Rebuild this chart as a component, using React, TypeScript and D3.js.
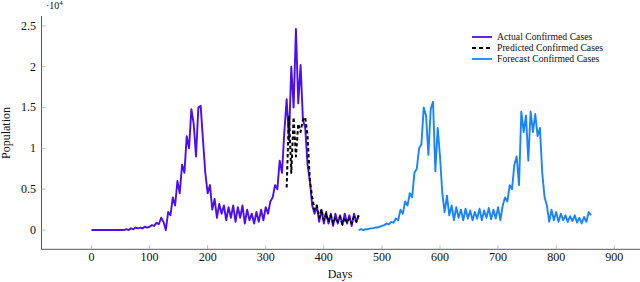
import React from "react";
import * as d3 from "d3";

// values in units of 10^4, sampled every 4 days
const STEP = 4;

const actualStart = 0;
const actual = [
  0, 0, 0, 0, 0, 0, 0, 0, 0, 0, 0, 0, 0, 0, 0,
  0.01, 0.0, 0.02, 0.01, 0.03, 0.02, 0.03, 0.02, 0.04, 0.03,
  0.04, 0.06, 0.05, 0.09, 0.07, 0.15, 0.1, 0.0, 0.22, 0.18,
  0.4, 0.3, 0.6, 0.45, 0.8, 0.7, 1.15, 1.0, 1.48, 1.3,
  0.9, 1.5, 1.52, 1.1, 0.7, 0.45, 0.55, 0.25, 0.38, 0.15,
  0.32, 0.2, 0.3, 0.12, 0.28, 0.15, 0.3, 0.1, 0.28, 0.15,
  0.3, 0.08, 0.25, 0.12, 0.2, 0.08, 0.22, 0.1, 0.25, 0.12,
  0.28, 0.2, 0.35, 0.4, 0.55, 0.5, 0.85, 0.7, 1.2, 1.6,
  1.1, 2.0, 1.5, 2.46, 1.55, 2.02, 1.35, 1.25, 0.8, 0.6,
  0.3, 0.2, 0.3, 0.1, 0.25, 0.08, 0.22, 0.08, 0.2, 0.05,
  0.2, 0.08, 0.18, 0.06, 0.2, 0.08, 0.18, 0.05, 0.2, 0.1,
  0.18,
];

const predictedStart = 336;
const predicted = [
  0.52, 1.4, 0.7, 1.38, 0.9, 1.3, 1.2, 1.35, 1.38, 1.15,
  0.6, 0.4, 0.25, 0.3, 0.15, 0.25, 0.12, 0.2, 0.1, 0.18,
  0.08, 0.15, 0.1, 0.16, 0.07, 0.15, 0.09, 0.14, 0.08, 0.16,
  0.1, 0.18,
];

const forecastStart = 460;
const forecast = [
  0.0, 0.01, 0.0, 0.01, 0.01, 0.02, 0.02, 0.03, 0.03, 0.04,
  0.05, 0.06, 0.08, 0.07, 0.1, 0.09, 0.14, 0.12, 0.25, 0.2,
  0.35, 0.3, 0.45, 0.4, 0.7, 0.75, 1.0, 1.05, 1.5, 1.4,
  0.92, 1.48, 1.57, 0.72, 1.25, 0.9, 0.45, 0.22, 0.42, 0.18,
  0.3, 0.12, 0.28, 0.15, 0.25, 0.12, 0.26, 0.14, 0.24, 0.12,
  0.22, 0.14, 0.26, 0.12, 0.24, 0.15, 0.27, 0.13, 0.25, 0.14,
  0.28, 0.12, 0.3, 0.4, 0.35, 0.55, 0.5, 0.8, 0.9, 0.55,
  1.45, 1.2, 1.4, 0.85, 1.45, 1.2, 1.42, 1.15, 1.25, 0.7,
  0.4, 0.3, 0.1, 0.25, 0.12, 0.22, 0.1, 0.2, 0.12, 0.18,
  0.1, 0.17, 0.11, 0.18, 0.09, 0.15, 0.08, 0.16, 0.1, 0.22,
  0.18,
];

const xTicks = [0, 100, 200, 300, 400, 500, 600, 700, 800, 900];
const yTicks = [0, 0.5, 1, 1.5, 2, 2.5];

const legendNames = ["Actual Confirmed Cases", "Predicted Confirmed Cases", "Forecast Confirmed Cases"];
const colors = ["#4a0df5", "#000000", "#1a84ff"];

const W = 640;
const H = 282;
const font = "'Liberation Serif', 'Times New Roman', serif";

export default function App() {
  const x = d3.scaleLinear().domain([-86, 946]).range([41.5, 641]);
  const y = d3.scaleLinear().domain([-0.236, 2.62]).range([249.3, 16]);

  const toPts = (start: number, vals: number[]) =>
    vals.map((v, i) => [start + i * STEP, v] as [number, number]);

  const line = d3
    .line<[number, number]>()
    .x((d) => x(d[0]))
    .y((d) => y(d[1]));

  const series = [
    { pts: toPts(actualStart, actual), color: colors[0], dash: undefined as string | undefined, w: 1.9 },
    { pts: toPts(forecastStart, forecast), color: colors[2], dash: undefined, w: 1.9 },
    { pts: toPts(predictedStart, predicted), color: colors[1], dash: "3.5,2.5", w: 2 },
  ];

  const [x0, x1] = x.range();
  const [y0, y1] = y.range();

  return (
    <svg width={W} height={H} style={{ position: "absolute", left: 0, top: 0, background: "#fff" }} fontFamily={font}>
      {series.map((s, i) => (
        <path key={i} d={line(s.pts) || ""} fill="none" stroke={s.color} strokeWidth={s.w}
          strokeDasharray={s.dash} strokeLinejoin="round" />
      ))}

      {/* axes */}
      <line x1={x0} x2={x1} y1={y0} y2={y0} stroke="#555" strokeWidth={1} />
      <line x1={x0} x2={x0} y1={y0} y2={y1} stroke="#555" strokeWidth={1} />

      {xTicks.map((t) => (
        <g key={"x" + t}>
          <line x1={x(t)} x2={x(t)} y1={y0} y2={y0 - 4} stroke="#aaa" strokeWidth={0.8} />
          <text x={x(t)} y={261} textAnchor="middle" fontSize={12} fill="#111">{t}</text>
        </g>
      ))}
      {yTicks.map((t) => (
        <g key={"y" + t}>
          <line x1={x0} x2={x0 + 4} y1={y(t)} y2={y(t)} stroke="#aaa" strokeWidth={0.8} />
          <text x={36} y={y(t) + 4} textAnchor="end" fontSize={12} fill="#111">{t}</text>
        </g>
      ))}

      <text x={46} y={9} fontSize={10} fill="#111">
        ·10<tspan fontSize={7} dy={-4}>4</tspan>
      </text>

      <text x={340} y={278} textAnchor="middle" fontSize={12} fill="#111">Days</text>
      <text transform={`translate(10, 133) rotate(-90)`} textAnchor="middle" fontSize={12} fill="#111">Population</text>

      {/* legend */}
      {legendNames.map((n, i) => (
        <g key={n} transform={`translate(472, ${37 + i * 11})`}>
          <line x1={0} x2={20} y1={0} y2={0} stroke={colors[i]} strokeWidth={i === 1 ? 2 : 1.8}
            strokeDasharray={i === 1 ? "4,3" : undefined} />
          <text x={25} y={3.2} fontSize={9.7} fill="#111">{n}</text>
        </g>
      ))}
    </svg>
  );
}
